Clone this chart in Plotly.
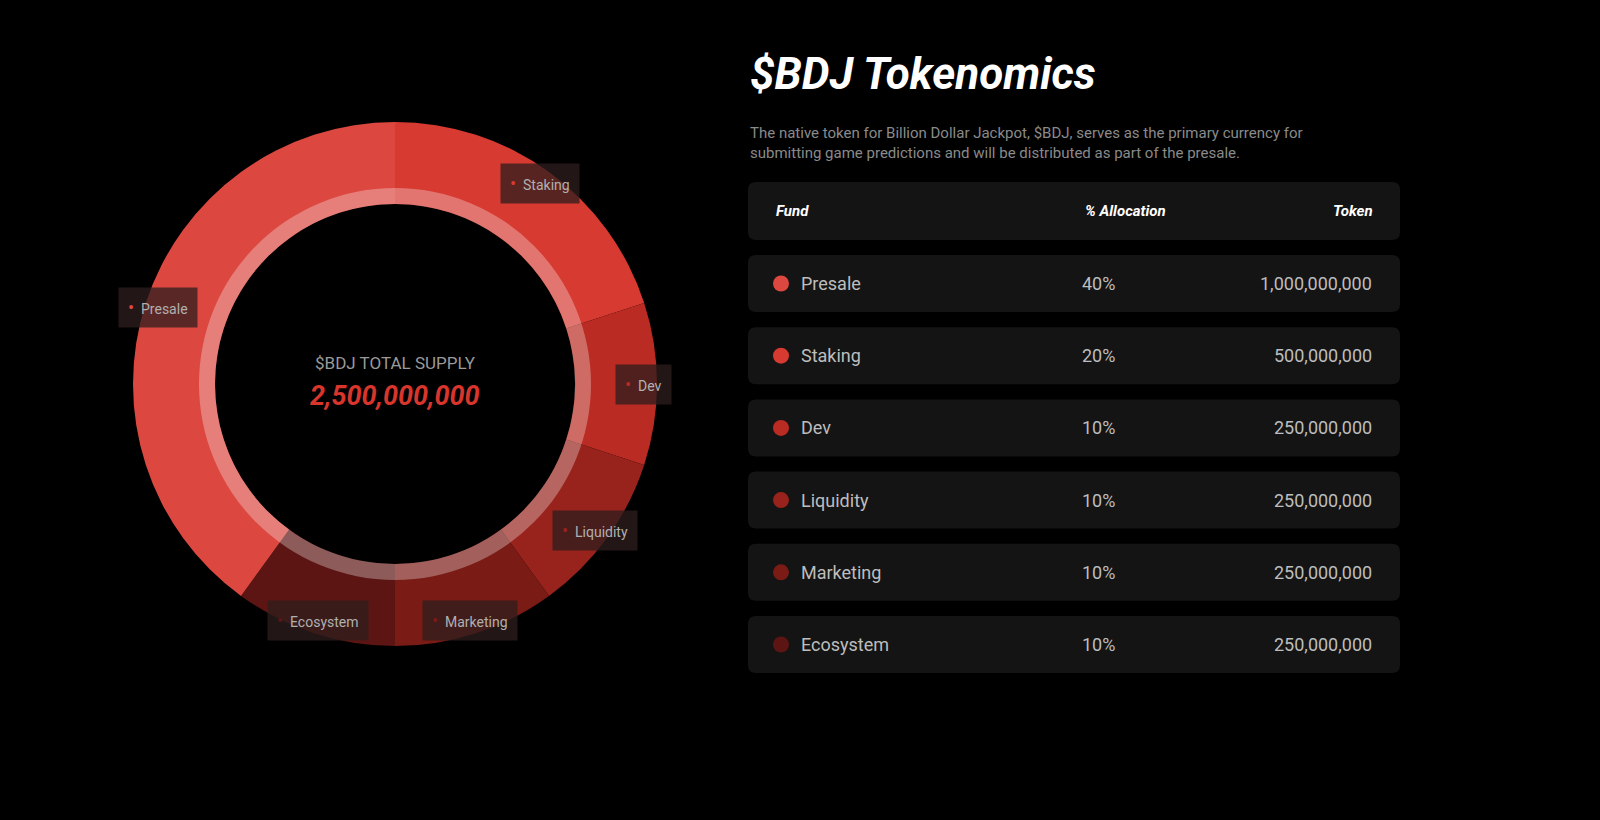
import plotly.graph_objects as go

# data
funds = ["Presale", "Staking", "Dev", "Liquidity", "Marketing", "Ecosystem"]
percents = [40, 20, 10, 10, 10, 10]
tokens = ["1,000,000,000", "500,000,000", "250,000,000", "250,000,000", "250,000,000", "250,000,000"]
colors = ["#dc4840", "#d63a31", "#b92b23", "#98231c", "#7a1b16", "#5c1512"]
pie_order = ["Staking", "Dev", "Liquidity", "Marketing", "Ecosystem", "Presale"]

W, H = 1600, 820
fig = go.Figure()

idx = [funds.index(f) for f in pie_order]
fig.add_trace(go.Pie(
    labels=pie_order, values=[percents[i] for i in idx],
    marker=dict(colors=[colors[i] for i in idx], line=dict(width=0)),
    sort=False, direction="clockwise", rotation=0, hole=180/262,
    textinfo="none", hoverinfo="label+percent", showlegend=False,
    domain=dict(x=[(395-262)/W, (395+262)/W], y=[1-(384+262)/H, 1-(384-262)/H])))
fig.add_trace(go.Pie(
    labels=["ring"], values=[1], marker=dict(colors=["rgba(255,255,255,0.3)"], line=dict(width=0)),
    hole=180/196, textinfo="none", hoverinfo="skip", showlegend=False,
    domain=dict(x=[(395-196)/W, (395+196)/W], y=[1-(384+196)/H, 1-(384-196)/H])))

def rrect(x0, y0, x1, y1, r, color):
    p = (f"M{x0+r},{y0} L{x1-r},{y0} Q{x1},{y0} {x1},{y0+r} L{x1},{y1-r} Q{x1},{y1} {x1-r},{y1} "
         f"L{x0+r},{y1} Q{x0},{y1} {x0},{y1-r} L{x0},{y0+r} Q{x0},{y0} {x0+r},{y0} Z")
    return dict(type="path", path=p, xref="x", yref="y", fillcolor=color, line=dict(width=0), layer="below")

shapes = []
ann = []
# header
shapes.append(rrect(748, 182, 1400, 240, 8, "#141414"))
hf = dict(family="Roboto", size=15, color="white")
ann += [dict(x=774, y=211, text="<b><i>Fund</i></b>", xanchor="left", font=hf),
        dict(x=1125, y=211, text="<b><i>% Allocation</i></b>", xanchor="center", font=hf),
        dict(x=1375, y=211, text="<b><i>Token</i></b>", xanchor="right", font=hf)]
rf = dict(family="Roboto", size=18, color="#bdbdbd")
for k, f in enumerate(funds):
    y0 = 255 + k * 72.2
    yc = y0 + 28.5
    shapes.append(rrect(748, y0, 1400, y0 + 57, 8, "#141414"))
    shapes.append(dict(type="circle", xref="x", yref="y", x0=773, x1=789, y0=yc-8, y1=yc+8,
                       fillcolor=colors[k], line=dict(width=0)))
    ann += [dict(x=799, y=yc, text=f, xanchor="left", font=rf),
            dict(x=1098, y=yc, text=f"{percents[k]}%", xanchor="center", font=rf),
            dict(x=1374, y=yc, text=tokens[k], xanchor="right", font=rf)]

# title & description
ann += [dict(x=748, y=74, text="<b><i>$BDJ Tokenomics</i></b>", xanchor="left",
             font=dict(family="Roboto", size=44, color="white")),
        dict(x=748, y=143, text="The native token for Billion Dollar Jackpot, $BDJ, serves as the primary currency for<br>submitting game predictions and will be distributed as part of the presale.",
             xanchor="left", align="left", font=dict(family="Roboto", size=15, color="#8a8a8a"))]

# center text
ann += [dict(x=395, y=363, text="$BDJ TOTAL SUPPLY", font=dict(family="Roboto", size=17, color="#9a9a9a")),
        dict(x=395, y=396, text="<b><i>2,500,000,000</i></b>", font=dict(family="Roboto", size=27, color="#d8352c"))]

# slice labels
label_pos = {"Staking": (540, 183), "Presale": (158, 307), "Dev": (643, 384), "Liquidity": (595, 530),
             "Ecosystem": (318, 620), "Marketing": (470, 620)}
for k, f in enumerate(funds):
    x, y = label_pos[f]
    ann.append(dict(x=x, y=y, text=f"<span style='color:{colors[k]};font-size:18px'>•</span>  {f}",
                    font=dict(family="Roboto", size=14, color="#b0b0b0"),
                    bgcolor="rgba(45,30,30,0.75)", borderpad=9))

for a in ann:
    a.setdefault("xref", "x"); a.setdefault("yref", "y"); a.setdefault("showarrow", False)
    a.setdefault("yanchor", "middle")

fig.update_layout(
    width=W, height=H, margin=dict(l=0, r=0, t=0, b=0),
    paper_bgcolor="black", plot_bgcolor="black",
    xaxis=dict(range=[0, W], visible=False, fixedrange=True),
    yaxis=dict(range=[H, 0], visible=False, fixedrange=True),
    shapes=shapes, annotations=ann)
fig.write_html("out.html", config={"displayModeBar": False},
               post_script="document.body.style.margin='0';document.body.style.background='black';document.body.style.overflow='hidden';")
